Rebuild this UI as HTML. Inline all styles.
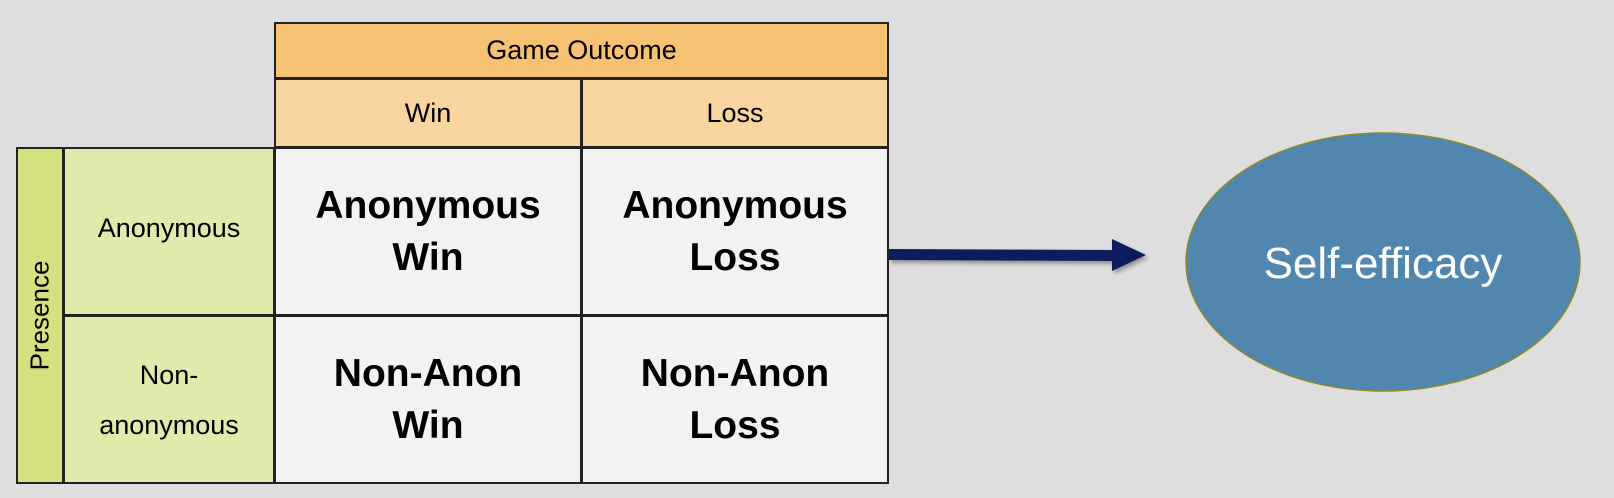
<!DOCTYPE html>
<html><head><style>
body{margin:0;width:1614px;height:498px;background:#dedede;position:relative;overflow:hidden;font-family:"Liberation Sans",sans-serif;}
.c{position:absolute;box-sizing:border-box;border:2px solid #222;display:flex;align-items:center;justify-content:center;text-align:center;color:#000;}
.b{font-weight:bold;font-size:39px;line-height:52px;}
.h{font-size:27px;}
</style></head><body>
<div class="c h" style="left:274px;top:22px;width:615px;height:57px;background:#f6c173;">Game Outcome</div>
<div class="c h" style="left:274px;top:78px;width:308px;height:70px;background:#f8d49e;">Win</div>
<div class="c h" style="left:581px;top:78px;width:308px;height:70px;background:#f8d49e;">Loss</div>
<div class="c" style="left:16px;top:147px;width:48px;height:337px;background:#d5e081;"><span style="transform:rotate(-90deg);font-size:26px;display:inline-block;white-space:nowrap;">Presence</span></div>
<div class="c h" style="left:63px;top:147px;width:212px;height:169px;background:#e2eaab;padding-bottom:6px;">Anonymous</div>
<div class="c h" style="left:63px;top:315px;width:212px;height:169px;background:#e2eaab;line-height:50px;">Non-<br>anonymous</div>
<div class="c b" style="left:274px;top:147px;width:308px;height:169px;background:#f2f2f2;">Anonymous<br>Win</div>
<div class="c b" style="left:581px;top:147px;width:308px;height:169px;background:#f2f2f2;">Anonymous<br>Loss</div>
<div class="c b" style="left:274px;top:315px;width:308px;height:169px;background:#f2f2f2;">Non-Anon<br>Win</div>
<div class="c b" style="left:581px;top:315px;width:308px;height:169px;background:#f2f2f2;">Non-Anon<br>Loss</div>
<svg style="position:absolute;left:0;top:0" width="1614" height="498">
<defs><filter id="s"><feDropShadow dx="2" dy="3" stdDeviation="2" flood-opacity="0.35"/></filter></defs>
<polygon filter="url(#s)" points="889,249 1112,250 1112,239 1146,255 1112,271 1112,261 889,260" fill="#0a1f5c"/>
<ellipse cx="1383" cy="262" rx="197" ry="129" fill="#5187ae" stroke="#8a8a2a" stroke-width="1.5"/>
<text x="1383" y="278" text-anchor="middle" font-family="Liberation Sans, sans-serif" font-size="44" fill="#fff">Self-efficacy</text>
</svg>
</body></html>
